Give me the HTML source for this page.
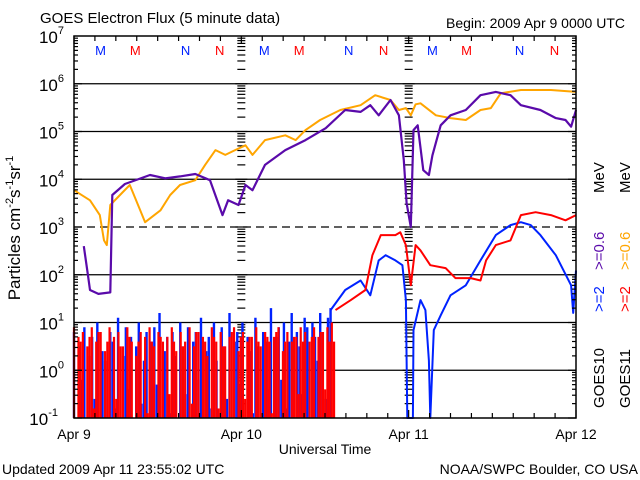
<!DOCTYPE html>
<html><head><meta charset="utf-8"><style>
html,body{margin:0;padding:0;background:#fff}
svg{display:block}
text{font-family:"Liberation Sans",sans-serif}
</style></head><body>
<svg id="chart" width="640" height="480" viewBox="0 0 640 480" xmlns="http://www.w3.org/2000/svg">
<rect width="640" height="480" fill="#fff"/>
<text x="40" y="23" font-size="15">GOES Electron Flux (5 minute data)</text>
<text x="625" y="28" font-size="14" text-anchor="end">Begin: 2009 Apr 9 0000 UTC</text>
<text x="325" y="454" font-size="14" text-anchor="middle">Universal Time</text>
<text x="2" y="474" font-size="14">Updated 2009 Apr 11 23:55:02 UTC</text>
<text x="638" y="474" font-size="14" text-anchor="end">NOAA/SWPC Boulder, CO USA</text>
<text transform="translate(20,228) rotate(-90)" font-size="17" text-anchor="middle">Particles cm<tspan font-size="11" dy="-7">-2</tspan><tspan dy="7">s</tspan><tspan font-size="11" dy="-7">-1</tspan><tspan dy="7">sr</tspan><tspan font-size="11" dy="-7">-1</tspan></text>
<g id="legend" font-size="15">
<text transform="translate(604,408) rotate(-90)">GOES10</text>
<text transform="translate(604,312) rotate(-90)" fill="#0022ff">&gt;=2</text>
<text transform="translate(604,270) rotate(-90)" fill="#5a0aaa">&gt;=0.6</text>
<text transform="translate(604,193) rotate(-90)">MeV</text>
<text transform="translate(630,408) rotate(-90)">GOES11</text>
<text transform="translate(630,312) rotate(-90)" fill="#ff0000">&gt;=2</text>
<text transform="translate(630,270) rotate(-90)" fill="#ffa500">&gt;=0.6</text>
<text transform="translate(630,193) rotate(-90)">MeV</text>
</g>
<g id="grid"></g>
<g id="series"></g>
<g id="axes"></g>
</svg>
<script>
// ---- data (time in hours since 2009 Apr 9 00 UTC, flux as log10) ----
const yTickExps = [-1,0,1,2,3,4,5,6,7];
const xTickLabels = ["Apr 9","Apr 10","Apr 11","Apr 12"];
const xTickHours = [0,24,48,72];
const satLabels = ["M","M","N","N","M","M","N","N","M","M","N","N"];
const satLabelHours = [3.8,8.8,16.0,20.9,27.3,32.3,39.4,44.4,51.4,56.3,63.9,68.9];
const satLabelColors = ["#0022ff","#ff0000","#0022ff","#ff0000","#0022ff","#ff0000","#0022ff","#ff0000","#0022ff","#ff0000","#0022ff","#ff0000"];

const purpleHours = [1.4,2.0,2.3,3.5,5.2,5.5,7.3,10.9,13.1,15.2,17.4,19.5,21.3,22.1,23.6,24.6,25.6,27.4,30.3,33.2,36.1,38.9,41.1,42.5,43.7,45.4,46.6,47.3,47.7,48.3,48.7,49.3,50.1,50.9,51.4,52.0,52.6,54.0,56.2,58.3,60.5,62.6,64.1,66.9,69.1,70.5,71.3,72];
const purpleLog = [2.6,2.0,1.68,1.6,1.63,3.67,3.9,4.09,4.02,4.06,4.11,3.98,3.25,3.56,3.46,3.88,3.77,4.3,4.61,4.82,5.07,5.45,5.41,5.55,5.34,5.66,5.34,4.4,3.5,3.0,5.03,5.13,4.19,4.09,4.5,4.82,5.13,5.34,5.45,5.76,5.83,5.76,5.55,5.45,5.28,5.24,5.1,5.45];

const orangeHours = [0,2.3,3.7,4.3,4.7,5.2,6.6,8.0,9.5,10.2,12.4,13.8,15.2,17.4,18.8,20.3,21.7,23.1,24.6,25.6,27.4,30.3,31.8,33.2,35.3,38.2,41.1,43.2,45.4,46.6,47.6,48.3,49.0,49.7,51.9,54.0,56.2,58.3,59.8,61.2,64.1,68.4,72];
const orangeLog = [3.77,3.56,3.25,2.72,2.62,3.46,3.67,3.88,3.35,3.1,3.35,3.67,3.88,3.98,4.3,4.61,4.51,4.61,4.71,4.51,4.82,4.92,4.82,5.03,5.24,5.45,5.55,5.76,5.66,5.45,5.49,5.34,5.57,5.59,5.34,5.28,5.24,5.45,5.49,5.8,5.87,5.87,5.83];

const blueNoiseLog = [0.8,-1,0.5,-0.2,0.9,-1,0.3,0.7,-0.6,1.0,-1,0.4,0.2,-1,0.8,0.6,-0.8,1.1,-1,0.3,0.9,-0.4,0.7,-1,0.5,1.0,-0.7,0.2,0.8,-1,0.6,0.9,-0.3,1.2,-1,0.4,0.7,-0.9,0.8,0.3,-1,1.0,0.5,-0.5,0.9,-1,0.6,0.8,-0.2,1.1,-1,0.4,0.7,-0.8,1.0,0.2,-1,0.9,0.5,-0.6,1.2,-1,0.6,0.8,-0.3,1.0,-1,0.7,0.4,-0.9,1.1,0.5,-1,0.8,0.6,-0.4,1.3,-1,0.7,0.9,-0.2,1.0,-0.8,0.6,1.2,-1,0.8,0.5,-0.5,1.1,0.9,-1,1.0,0.7,0.2,1.2,0.8,-0.6,1.1,1.3];
const blueNoiseEndHour = 36.8;
const blueHours = [36.8,38.9,41.1,42.5,43.7,44.7,46.1,47.1,47.6,47.8,48.6,48.7,49.7,50.4,50.9,51.1,51.6,52.6,54.0,56.2,58.3,60.5,62.6,64.1,65.5,66.9,69.1,71.3,71.6,72];
const blueLog = [1.26,1.68,1.88,1.57,2.3,2.41,2.3,2.2,1.47,-1,-1,0.84,1.47,1.26,0.2,-1,0.84,1.15,1.57,1.78,2.3,2.83,3.04,3.1,3.04,2.83,2.41,1.78,1.2,2.09];

const redNoiseLog = [0.9,-1,0.7,0.6,0.8,-1,0.5,0.7,0.9,-0.8,0.6,0.8,0.8,-1,0.4,0.6,0.9,-1,0.7,-0.6,0.8,0.5,0.5,-1,0.9,0.7,0.6,-1,0.3,0.6,0.8,-1,0.7,-0.9,0.9,0.6,0.5,-1,0.8,0.7,0.6,-1,0.7,-0.5,0.9,0.6,0.4,-1,0.8,0.5,0.6,-1,0.9,-0.7,0.5,0.8,0.8,-1,0.7,0.6,0.3,-1,0.9,0.7,0.6,-0.8,0.8,0.5,0.5,-1,0.7,0.8,0.9,-1,0.4,0.7,0.8,-0.6,0.6,0.7,0.7,-1,0.9,0.6,0.5,-1,0.8,0.7,0.6,-0.9,0.7,0.8,0.9,-1,0.4,0.6,0.8,-1,0.6,0.7,0.7,-0.5,0.9,0.6,0.8,-1,0.6,0.7,0.9,-1,0.7,0.8,0.8,-0.4,0.9,0.6,1.0,0.6];
const redNoiseEndHour = 37.3;
const redHours = [37.5,39.7,41.8,42.8,44.0,46.1,46.8,47.6,48.3,49.0,49.7,51.1,53.3,54.7,56.9,58.3,59.1,60.5,62.6,64.1,66.2,68.4,70.5,72];
const redLog = [1.26,1.47,1.68,2.41,2.83,2.83,2.89,2.62,1.78,2.62,2.51,2.2,2.14,1.93,1.93,1.88,2.3,2.62,2.72,3.25,3.31,3.25,3.14,3.25];

// ---- axes ----
const X0=74, X1=576, Y0=418, Y1=36, LMIN=-1, LMAX=7, HMAX=72;
const xS = h => X0 + (h/HMAX)*(X1-X0);
const yS = l => Y0 - ((Math.max(LMIN,Math.min(LMAX,l))-LMIN)/(LMAX-LMIN))*(Y0-Y1);
const NS="http://www.w3.org/2000/svg";
function mk(tag, attrs, parent){const e=document.createElementNS(NS,tag);for(const k in attrs)e.setAttribute(k,attrs[k]);parent.appendChild(e);return e;}
const grid=document.getElementById('grid'), series=document.getElementById('series'), axes=document.getElementById('axes');

yTickExps.forEach(e=>{
  if(e===-1||e===7) return;
  const y=yS(e);
  const ln=mk('line',{x1:X0,x2:X1,y1:y,y2:y,stroke:'#000','stroke-width':1.3},grid);
  
  
  if(e===3) ln.setAttribute('stroke-dasharray','8,5');
});
[24,48].forEach(h=>{
  const x=xS(h);
  const g=mk('g',{},grid);
  
  
  for(let e=-1;e<7;e++){
    for(let m=1;m<=9;m++){
      const y=yS(e+Math.log10(m));
      const len = m===1?6:4;
      mk('line',{x1:x-len,x2:x+len,y1:y,y2:y,stroke:'#000','stroke-width':1.2},g);
    }
  }
});

function poly(hours, logs, color, w, name){
  const pts=hours.map((h,i)=>xS(h).toFixed(1)+','+yS(logs[i]).toFixed(1)).join(' ');
  const p=mk('polyline',{points:pts,fill:'none',stroke:color,'stroke-width':w,'stroke-linejoin':'round'},series);
  
  
}
function noiseBars(arr,end,color,w,name){
  const g=mk('g',{},series);
  
  
  arr.forEach((v,i)=>{
    if(v<=LMIN) return;
    const x=xS(i*end/(arr.length-1));
    mk('line',{x1:x,x2:x,y1:yS(LMIN),y2:yS(v),stroke:color,'stroke-width':w},g);
  });
}

noiseBars(blueNoiseLog,blueNoiseEndHour,'#0022ff',2.4,'goes10-ge2-noise');
poly(blueHours,blueLog,'#0022ff',2,'goes10-ge2-line');
noiseBars(redNoiseLog,redNoiseEndHour,'#ff0000',2.2,'goes11-ge2-noise');
poly(redHours,redLog,'#ff0000',2,'goes11-ge2-line');
poly(orangeHours,orangeLog,'#ffa500',2,'goes11-ge06-line');
poly(purpleHours,purpleLog,'#5a0aaa',2.2,'goes10-ge06-line');

const fr=mk('rect',{x:X0,y:Y1,width:X1-X0,height:Y0-Y1,fill:'none',stroke:'#000','stroke-width':1.5},axes);


for(let e=-1;e<7;e++){
  for(let m=1;m<=9;m++){
    const y=yS(e+Math.log10(m));
    const len=m===1?8:4;
    mk('line',{x1:X0,x2:X0+len,y1:y,y2:y,stroke:'#000','stroke-width':1.2},axes);
    mk('line',{x1:X1-len,x2:X1,y1:y,y2:y,stroke:'#000','stroke-width':1.2},axes);
  }
}
yTickExps.forEach(e=>{
  const t=mk('text',{x:X0-8,y:yS(e)+7,'font-size':17,'text-anchor':'end'},axes);
  
  
  t.textContent='10';
  const s=mk('tspan',{'font-size':11,dy:-9},t);
  s.textContent=String(e);
  t.setAttribute('x',X0-(e<0?16:10));
});
for(let h=0;h<=HMAX;h+=3){
  const x=xS(h);
  const len=(h%24===0)?8:5;
  mk('line',{x1:x,x2:x,y1:Y0,y2:Y0-len,stroke:'#000','stroke-width':1.2},axes);
  mk('line',{x1:x,x2:x,y1:Y1,y2:Y1+len,stroke:'#000','stroke-width':1.2},axes);
}
xTickLabels.forEach((lab,i)=>{
  const t=mk('text',{x:xS(xTickHours[i]),y:439,'font-size':14,'text-anchor':'middle'},axes);
  
  
  t.textContent=lab;
});
satLabels.forEach((s,i)=>{
  const t=mk('text',{x:xS(satLabelHours[i]),y:55,'font-size':13,'text-anchor':'middle',fill:satLabelColors[i]},axes);
  
  
  t.textContent=s;
});
</script>
</body></html>
